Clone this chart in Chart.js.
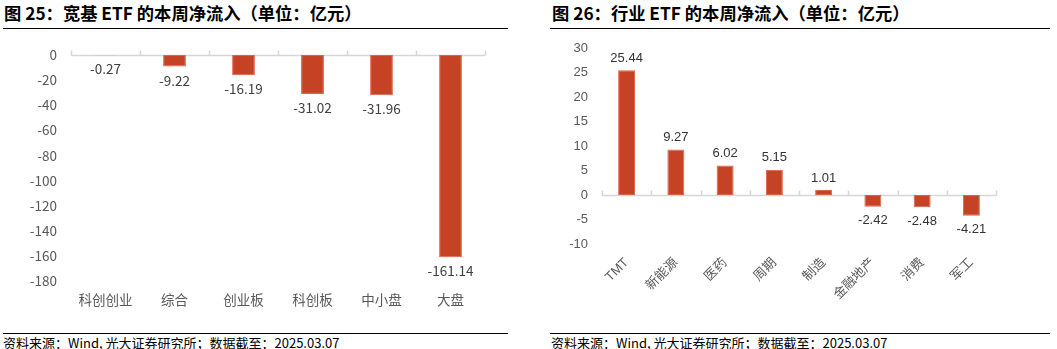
<!DOCTYPE html>
<html>
<head>
<meta charset="utf-8">
<script src="https://cdn.jsdelivr.net/npm/chart.js@4/dist/chart.umd.min.js"></script>
<style>
  html, body { margin: 0; padding: 0; background: #fff; }
  body { width: 1057px; height: 349px; position: relative; overflow: hidden; }
  .panel { position: absolute; top: 0; height: 349px; }
  .title { position: absolute; top: 4px; font: bold 17.3px/17px "Noto Sans CJK SC", sans-serif; color: #000; white-space: nowrap; }
  .rule { position: absolute; height: 1px; background: #000; }
  .source { position: absolute; top: 336px; font: 13px/13px "Noto Sans CJK SC", sans-serif; color: #000; white-space: nowrap; }
  canvas { position: absolute; }
</style>
</head>
<body>
<div class="panel" style="left:0;width:530px">
  <div class="title" style="left:4px">图 25：宽基 ETF 的本周净流入（单位：亿元）</div>
  <div class="rule" style="left:3px;top:28px;width:505px"></div>
  <canvas id="broadChart" width="520" height="285" style="left:0;top:30px"></canvas>
  <div class="rule" style="left:3px;top:333px;width:505px"></div>
  <div class="source" style="left:3px">资料来源：Wind, 光大证券研究所；数据截至：2025.03.07</div>
</div>
<div class="panel" style="left:545px;width:512px">
  <div class="title" style="left:7px">图 26：行业 ETF 的本周净流入（单位：亿元）</div>
  <div class="rule" style="left:5px;top:28px;width:500px"></div>
  <canvas id="sectorChart" width="512" height="300" style="left:0;top:23px"></canvas>
  <div class="rule" style="left:5px;top:333px;width:500px"></div>
  <div class="source" style="left:6px">资料来源：Wind, 光大证券研究所；数据截至：2025.03.07</div>
</div>
<script>
// Weekly net inflow of broad-based ETFs (100 million yuan)
const broadCategories = ['科创创业', '综合', '创业板', '科创板', '中小盘', '大盘'];
const broadValues = [-0.27, -9.22, -16.19, -31.02, -31.96, -161.14];
const broadTicks = [0, -20, -40, -60, -80, -100, -120, -140, -160, -180];

// Weekly net inflow of sector ETFs (100 million yuan)
const sectorCategories = ['TMT', '新能源', '医药', '周期', '制造', '金融地产', '消费', '军工'];
const sectorValues = [25.44, 9.27, 6.02, 5.15, 1.01, -2.42, -2.48, -4.21];
const sectorTicks = [30, 25, 20, 15, 10, 5, 0, -5, -10];

const BAR_FILL = 'rgb(197,66,36)';
const BAR_EDGE = 'rgb(222,98,70)';
const AXIS_GREY = '#D6D6D6';
const LABEL_GREY = '#595959';

// Horizontal line at value 0 with short tick marks at category boundaries
const zeroAxis = {
  id: 'zeroAxis',
  beforeDatasetsDraw(chart) {
    const { ctx, chartArea, scales: { x, y } } = chart;
    const y0 = Math.round(y.getPixelForValue(0)) + 0.5;
    const n = chart.data.labels.length;
    const half = (x.getPixelForValue(1) - x.getPixelForValue(0)) / 2;
    ctx.save();
    ctx.strokeStyle = AXIS_GREY;
    ctx.lineWidth = 1.5;
    ctx.beginPath();
    ctx.moveTo(chartArea.left, y0);
    ctx.lineTo(chartArea.right, y0);
    for (let i = 0; i <= n; i++) {
      const px = Math.round(x.getPixelForValue(i) - half) + 0.5;
      ctx.moveTo(px, y0);
      ctx.lineTo(px, y0 - 5);
    }
    ctx.stroke();
    ctx.restore();
  }
};

// Value labels at the end of each bar
const barValues = {
  id: 'barValues',
  afterDatasetsDraw(chart, args, opts) {
    const { ctx } = chart;
    const meta = chart.getDatasetMeta(0);
    const data = chart.data.datasets[0].data;
    ctx.save();
    ctx.font = opts.font;
    ctx.fillStyle = opts.color;
    ctx.textAlign = 'center';
    ctx.textBaseline = 'middle';
    meta.data.forEach((bar, i) => {
      const v = data[i];
      const y = v >= 0 ? bar.y - opts.above : bar.y + opts.below;
      ctx.fillText(v.toFixed(2), bar.x, y);
    });
    ctx.restore();
  }
};

function buildChart(id, cfg) {
  return new Chart(document.getElementById(id), {
    type: 'bar',
    data: {
      labels: cfg.labels,
      datasets: [{
        data: cfg.values,
        backgroundColor: BAR_FILL,
        borderColor: BAR_EDGE,
        borderWidth: 1,
        borderSkipped: false,
        categoryPercentage: 1,
        barPercentage: cfg.barPct
      }]
    },
    options: {
      responsive: false,
      animation: false,
      devicePixelRatio: 1,
      layout: { padding: cfg.padding },
      plugins: {
        legend: { display: false },
        tooltip: { enabled: false },
        barValues: cfg.valueLabels
      },
      scales: {
        x: {
          grid: { display: false },
          border: { display: false },
          ticks: {
            color: LABEL_GREY,
            font: cfg.xFont,
            padding: cfg.xPad,
            autoSkip: false,
            maxRotation: cfg.rotation,
            minRotation: cfg.rotation
          },
          afterFit(scale) { scale.height = cfg.xHeight; }
        },
        y: {
          min: Math.min(...cfg.ticks),
          max: Math.max(...cfg.ticks),
          grid: { display: false, drawTicks: false },
          border: { display: false },
          afterBuildTicks(scale) { scale.ticks = cfg.ticks.map(v => ({ value: v })); },
          ticks: {
            color: LABEL_GREY,
            font: cfg.yFont,
            padding: cfg.yPad
          },
          afterFit(scale) { scale.width = cfg.yWidth; }
        }
      }
    },
    plugins: [zeroAxis, barValues]
  });
}

buildChart('broadChart', {
  labels: broadCategories,
  values: broadValues,
  ticks: broadTicks,
  barPct: 0.33,
  padding: { top: 25, right: 35, left: 0, bottom: 0 },
  xHeight: 34,
  xPad: 3,
  rotation: 0,
  yWidth: 71,
  yPad: 14,
  xFont: { family: '"Noto Sans CJK SC", sans-serif', size: 13.5 },
  yFont: { family: '"Noto Sans CJK SC", sans-serif', size: 13.5 },
  valueLabels: { font: '13.5px "Noto Sans CJK SC", sans-serif', color: '#404040', above: 12, below: 14 }
});

buildChart('sectorChart', {
  labels: sectorCategories,
  values: sectorValues,
  ticks: sectorTicks,
  barPct: 0.345,
  padding: { top: 25, right: 61, left: 0, bottom: 0 },
  xHeight: 79,
  xPad: 3,
  rotation: 45,
  yWidth: 57,
  yPad: 14,
  xFont: { family: '"Liberation Sans", "Noto Sans CJK SC", sans-serif', size: 13 },
  yFont: { family: '"Liberation Sans", "Noto Sans CJK SC", sans-serif', size: 13 },
  valueLabels: { font: '13px "Liberation Sans", "Noto Sans CJK SC", sans-serif', color: '#333333', above: 12, below: 14 }
});
</script>
</body>
</html>
